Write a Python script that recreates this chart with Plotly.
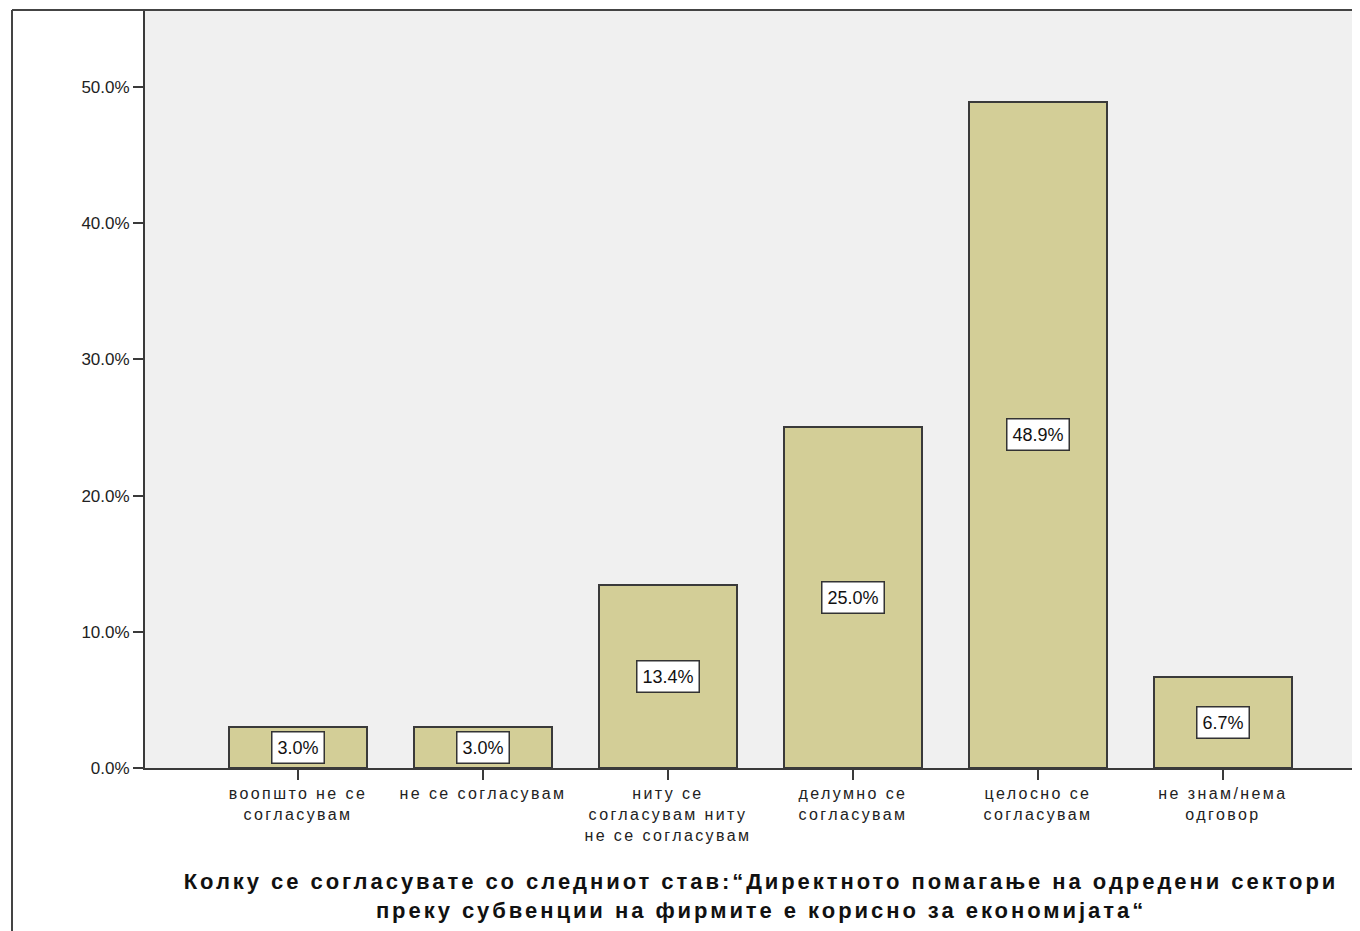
import plotly.graph_objects as go

categories = [
    "воопшто не се<br>согласувам",
    "не се согласувам",
    "ниту се<br>согласувам ниту<br>не се согласувам",
    "делумно се<br>согласувам",
    "целосно се<br>согласувам",
    "не знам/нема<br>одговор",
]
percents = [3.0, 3.0, 13.4, 25.0, 48.9, 6.7]
y_ticks = [0, 10, 20, 30, 40, 50]
y_tick_labels = ["0.0%", "10.0%", "20.0%", "30.0%", "40.0%", "50.0%"]
x_title_lines = [
    "Колку се согласувате со следниот став:“Директното помагање на одредени сектори",
    "преку субвенции на фирмите е корисно за економијата“",
]

# page has an 8px body margin; figure is sized to fill the rest of the window
OFF = 8
W, H = 1360 - OFF, 931 - OFF
ML, MT, MR = 145 - OFF, 10 - OFF, 0
MB = H - (768 - OFF)
pw = W - ML - MR
ph = H - MT - MB

FONT = "Arial, Liberation Sans, sans-serif"
xs = list(range(len(categories)))

fig = go.Figure()
fig.add_trace(go.Bar(
    x=xs, y=percents, width=0.75,
    marker=dict(color="#D3CE97", line=dict(color="#3A3A3A", width=2)),
    hoverinfo="skip",
))

for i, v in enumerate(percents):
    fig.add_annotation(
        x=i, y=v / 2, xref="x", yref="y",
        text=f"{v:.1f}%", showarrow=False,
        font=dict(family=FONT, size=18, color="#111111"),
        bgcolor="white", bordercolor="#333333", borderwidth=1.5, borderpad=5,
    )

# outer frame (left and top)
fx = (12 - 145) / pw
fy_bot = (768 - 931) / ph
fig.add_shape(type="line", xref="paper", yref="paper",
              x0=fx, y0=fy_bot, x1=fx, y1=1, line=dict(color="#444444", width=2))
fig.add_shape(type="line", xref="paper", yref="paper",
              x0=fx, y0=1, x1=1.01, y1=1, line=dict(color="#444444", width=2))

fig.update_layout(
    width=W, height=H,
    margin=dict(l=ML, r=MR, t=MT, b=MB),
    paper_bgcolor="white", plot_bgcolor="#F0F0F0",
    showlegend=False,
    bargap=0,
    font=dict(family=FONT, size=16, color="#222222"),
    title=dict(
        text="<br>".join(x_title_lines),
        x=(761 - 145) / pw, xref="paper", xanchor="center",
        y=1 - (889 - OFF) / H, yref="container", yanchor="middle",
        font=dict(family=FONT, size=22, color="#111111", weight="bold"),
    ),
)
fig.update_xaxes(
    range=[-0.827, 5.741],
    tickvals=xs, ticktext=categories,
    ticks="outside", ticklen=10, tickwidth=2, tickcolor="#3A3A3A",
    showline=True, linecolor="#3A3A3A", linewidth=2,
    showgrid=False, zeroline=False,
    tickfont=dict(family=FONT, size=16, color="#222222"),
)
fig.update_yaxes(
    range=[0, 55.65],
    tickvals=y_ticks, ticktext=y_tick_labels,
    ticks="outside", ticklen=10, tickwidth=2, tickcolor="#3A3A3A",
    showline=True, linecolor="#3A3A3A", linewidth=2,
    showgrid=False, zeroline=False,
    tickfont=dict(family=FONT, size=17, color="#222222"),
)

post = """
var st = document.createElement('style');
st.textContent = '.xtick text{letter-spacing:2.4px} .gtitle{letter-spacing:2.95px}';
document.head.appendChild(st);
"""
fig.write_html("out.html", post_script=post)
